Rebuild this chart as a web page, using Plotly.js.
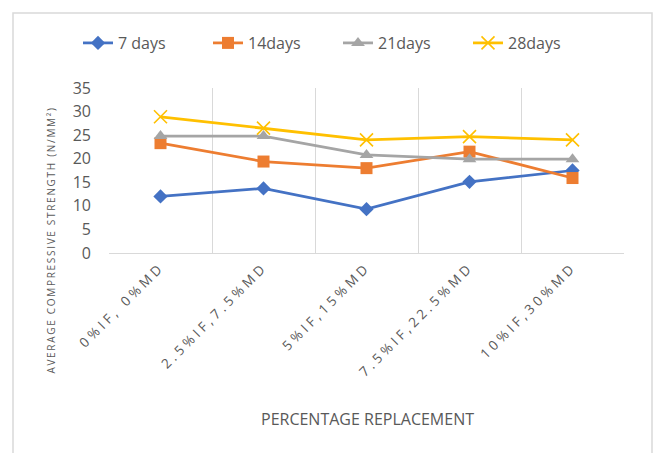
<!DOCTYPE html>
<html>
<head>
<meta charset="utf-8">
<script src="https://cdn.plot.ly/plotly-3.0.1.min.js"></script>
<style>
  html, body { margin: 0; padding: 0; background: #fff; }
  #chart { width: 656px; height: 453px; }
  .xtick text { letter-spacing: 3.6px; }
  .annotation[data-index="1"] .annotation-text { letter-spacing: 1.7px; }
</style>
</head>
<body>
<div id="chart"></div>
<script>
const categories = ["0%IF, 0%MD", "2.5%IF,7.5%MD", "5%IF,15%MD", "7.5%IF,22.5%MD", "10%IF,30%MD"];
const days7  = [12.0, 13.7, 9.3, 15.1, 17.5];
const days14 = [23.3, 19.4, 18.0, 21.5, 15.9];
const days21 = [24.8, 24.8, 20.8, 19.9, 19.9];
const days28 = [28.9, 26.5, 24.0, 24.7, 24.0];
const seriesNames = ["7 days", "14days", "21days", "28days"];
const xTitle = "PERCENTAGE REPLACEMENT";
const yTitle = "AVERAGE COMPRESSIVE STRENGTH (N/MM²)";

const colors = ["#4472C4", "#ED7D31", "#A5A5A5", "#FFC000"];
const symbols = ["diamond", "square", "triangle-up", "x-thin"];
const sizes = [11, 12, 12, 13];
const seriesData = [days7, days14, days21, days28];

const traces = seriesData.map((vals, i) => ({
  type: "scatter",
  mode: "lines+markers",
  name: seriesNames[i],
  x: categories,
  y: vals,
  line: { color: colors[i], width: 2.75 },
  marker: symbols[i] === "x-thin"
    ? { symbol: "x-thin", size: sizes[i], color: colors[i], line: { color: colors[i], width: 1.6 } }
    : { symbol: symbols[i], size: sizes[i], color: colors[i] }
}));

// plot area: x 109..624, y 88..253 (px)
const W = 515, H = 165, L = 109, B = 253;
const px = v => (v - L) / W;
const py = v => (B - v) / H;

const layout = {
  width: 656, height: 453,
  margin: { l: 109, r: 32, t: 88, b: 200 },
  paper_bgcolor: "#ffffff",
  plot_bgcolor: "#ffffff",
  font: { family: "Open Sans, sans-serif", color: "#595959" },
  showlegend: true,
  legend: {
    orientation: "h",
    x: px(78), xanchor: "left",
    y: py(43), yanchor: "middle",
    font: { size: 16, color: "#595959" },
    entrywidth: 85, entrywidthmode: "pixels",
    bgcolor: "rgba(0,0,0,0)"
  },
  xaxis: {
    type: "category",
    range: [-0.5, 4.5],
    tickson: "boundaries",
    showgrid: true, gridcolor: "#d9d9d9", gridwidth: 1,
    showline: true, linecolor: "#d9d9d9", linewidth: 1,
    ticks: "",
    tickangle: -45,
    tickfont: { size: 13.5, color: "#595959" },
    automargin: false,
    fixedrange: true
  },
  yaxis: {
    range: [0, 35],
    dtick: 5,
    tick0: 0,
    showgrid: false,
    zeroline: false,
    showline: false,
    ticks: "",
    ticklabelstandoff: 17,
    tickfont: { size: 16, color: "#595959" },
    automargin: false,
    fixedrange: true
  },
  annotations: [
    {
      text: xTitle, showarrow: false,
      xref: "paper", yref: "paper",
      x: px(367), y: py(419), xanchor: "center", yanchor: "middle",
      font: { size: 16, color: "#595959" }
    },
    {
      text: yTitle, showarrow: false,
      xref: "paper", yref: "paper",
      x: px(51), y: py(240), xanchor: "center", yanchor: "middle",
      textangle: -90,
      font: { size: 10, color: "#595959" }
    }
  ],
  shapes: [
    {
      type: "rect", xref: "paper", yref: "paper",
      x0: px(13), x1: px(652), y0: py(470), y1: py(13),
      line: { color: "#d9d9d9", width: 1.5 },
      fillcolor: "rgba(0,0,0,0)",
      layer: "below"
    }
  ]
};

Plotly.newPlot("chart", traces, layout, { displayModeBar: false, staticPlot: true });
</script>
</body>
</html>
